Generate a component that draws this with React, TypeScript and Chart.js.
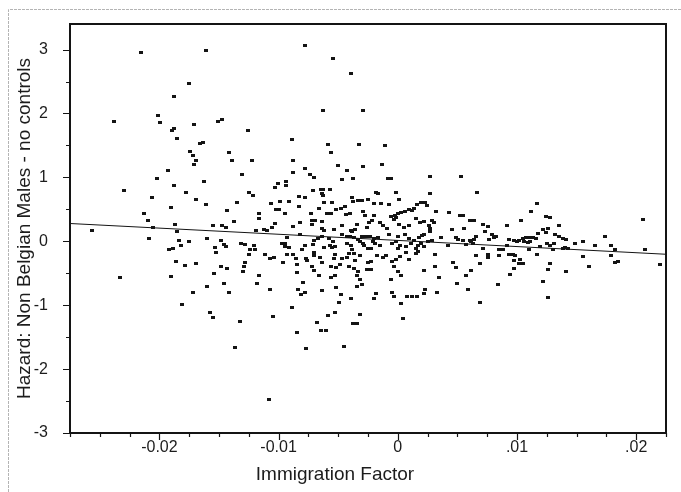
import React, { useEffect, useRef } from 'react';
import { Chart, registerables } from 'chart.js';

Chart.register(...registerables);

// Axis ranges and tick labels
const xRange = [-0.0275, 0.0225];
const yRange = [-3, 3.4];
const xMajorTicks = [-0.02, -0.01, 0, 0.01, 0.02];
const xTickLabels = ['-0.02', '-0.01', '0', '.01', '.02'];
const xMinorStep = 0.0025;
const yMajorTicks = [-3, -2, -1, 0, 1, 2, 3];
const yTickLabels = ['-3', '-2', '-1', '0', '1', '2', '3'];
const yMinorStep = 0.5;

// Fitted line (end points)
const fitX = [-0.0275, 0.0225];
const fitY = [0.278, -0.203];

// Observations: [Immigration Factor, Hazard]
const observations: [number, number][] = [
  [-0.02154, 2.96], [-0.01605, 2.99], [-0.01748, 2.47], [-0.01874, 2.27], [-0.02008, 1.97], [-0.02378, 1.88],
  [-0.01994, 1.86], [-0.01877, 1.77], [-0.01893, 1.74], [-0.01706, 1.82], [-0.01507, 1.87], [-0.01479, 1.9],
  [-0.01255, 1.74], [-0.01851, 1.61], [-0.01633, 1.54], [-0.0166, 1.53],
  [-0.00782, 3.06], [-0.00543, 2.86], [-0.00395, 2.62], [-0.00625, 2.05], [-0.00289, 2.05], [-0.00885, 1.6],
  [-0.00583, 1.51], [-0.00328, 1.52], [-0.00104, 1.5],
  [-0.01745, 1.41], [-0.01714, 1.35], [-0.01418, 1.39], [-0.01692, 1.26], [-0.01706, 1.2], [-0.01389, 1.26],
  [-0.01227, 1.26], [-0.0193, 1.1], [-0.01311, 1.04], [-0.02023, 0.975], [-0.01624, 0.93], [-0.0188, 0.87],
  [-0.01008, 0.91], [-0.01034, 0.845], [-0.02297, 0.8], [-0.01773, 0.77], [-0.01252, 0.76], [-0.01213, 0.72],
  [-0.02062, 0.68], [-0.01689, 0.66], [-0.01611, 0.58], [-0.01347, 0.6], [-0.00989, 0.62], [-0.01067, 0.59],
  [-0.01905, 0.53], [-0.01431, 0.48], [-0.01025, 0.5], [-0.00997, 0.5], [-0.02129, 0.43], [-0.01165, 0.44],
  [-0.01165, 0.35], [-0.02098, 0.32], [-0.01378, 0.31], [-0.01031, 0.28], [-0.01866, 0.26], [-0.01549, 0.24],
  [-0.01471, 0.24], [-0.0144, 0.22], [-0.01059, 0.21], [-0.02566, 0.166], [-0.02053, 0.22], [-0.01851, 0.16],
  [-0.01193, 0.166], [-0.01126, 0.19], [-0.01095, 0.17], [-0.02084, 0.05], [-0.01838, 0.02], [-0.01748, 0.0],
  [-0.01599, 0.036], [-0.01485, 0.02], [-0.01456, -0.05], [-0.01443, -0.085], [-0.01815, -0.07], [-0.01882, -0.11],
  [-0.01919, -0.13], [-0.01532, -0.094], [-0.01524, -0.17], [-0.01314, -0.03], [-0.01286, -0.05], [-0.01241, -0.125],
  [-0.01204, -0.07], [-0.012, -0.125], [-0.01246, -0.21], [-0.01115, -0.21], [-0.01073, -0.27], [-0.01042, -0.25],
  [-0.00969, -0.04], [-0.0095, -0.085], [-0.01857, -0.32], [-0.01787, -0.38], [-0.01692, -0.34], [-0.0128, -0.335],
  [-0.01288, -0.39], [-0.01485, -0.4], [-0.01429, -0.43], [-0.01546, -0.51], [-0.01297, -0.48], [-0.01168, -0.53],
  [-0.02328, -0.574], [-0.01905, -0.554], [-0.01454, -0.66], [-0.01179, -0.66], [-0.01599, -0.7], [-0.01073, -0.76],
  [-0.0172, -0.8], [-0.01418, -0.8], [-0.01812, -0.99], [-0.01574, -1.11], [-0.01549, -1.2], [-0.01325, -1.26],
  [-0.01045, -1.17], [-0.01364, -1.665], [-0.01084, -2.48],
  [-0.00557, 1.39], [-0.00876, 1.27], [-0.00502, 1.19], [-0.00294, 1.17], [-0.00132, 1.2], [-0.00782, 1.14],
  [-0.00876, 1.08], [-0.00423, 1.1], [-0.00737, 1.04], [-0.007, 1.0], [-0.00465, 0.96], [-0.00372, 0.975],
  [-0.00082, 0.98], [-0.0006, 0.98], [0.00266, 1.01], [0.00532, 1.01], [-0.0094, 0.93], [-0.0094, 0.87],
  [-0.00712, 0.79], [-0.00641, 0.81], [-0.00627, 0.81], [-0.00569, 0.81], [-0.00636, 0.75], [-0.0063, 0.72],
  [-0.00832, 0.7], [-0.00182, 0.77], [-0.00168, 0.74], [-0.00011, 0.77], [0.00266, 0.74], [-0.00916, 0.62],
  [-0.00779, 0.69], [-0.00619, 0.61], [-0.00555, 0.61], [-0.00387, 0.69], [-0.00372, 0.615], [-0.00334, 0.635],
  [-0.00297, 0.635], [-0.00246, 0.65], [-0.00202, 0.59], [-0.0014, 0.59], [-0.00078, 0.58], [0.00008, 0.66],
  [0.0016, 0.58], [0.00193, 0.6], [0.00227, 0.6], [0.00246, 0.56], [0.00132, 0.51], [-0.0095, 0.44],
  [-0.00832, 0.54], [-0.00725, 0.44], [-0.00658, 0.52], [-0.00597, 0.44], [-0.00557, 0.44], [-0.00521, 0.49],
  [-0.00479, 0.52], [-0.00445, 0.55], [-0.00431, 0.42], [-0.00397, 0.44], [-0.00294, 0.46], [-0.00275, 0.4],
  [-0.00196, 0.4], [-0.00053, 0.385], [-0.00025, 0.41], [0.00003, 0.43], [0.00031, 0.45], [0.00059, 0.47],
  [-0.00036, 0.34], [-0.00017, 0.365], [0.00092, 0.49], [0.00118, 0.485], [0.00151, 0.35], [0.00322, 0.46],
  [0.00426, 0.45], [0.00518, 0.41], [0.00546, 0.41], [0.00602, 0.32], [0.00636, 0.32], [-0.00723, 0.33],
  [-0.00695, 0.33], [-0.00639, 0.31], [-0.00821, 0.29], [-0.00882, 0.23], [-0.00717, 0.27], [-0.00636, 0.2],
  [-0.00622, 0.17], [-0.00535, 0.19], [-0.00471, 0.24], [-0.00389, 0.17], [-0.00361, 0.18], [-0.00339, 0.255],
  [-0.00261, 0.22], [-0.00238, 0.3], [-0.00216, 0.32], [-0.00149, 0.29], [-0.0012, 0.24], [-0.00092, 0.2],
  [0.00006, 0.27], [0.00053, 0.22], [0.00092, 0.25], [0.00187, 0.29], [0.00221, 0.31], [0.00283, 0.33],
  [0.003, 0.29], [0.00258, 0.25], [0.00272, 0.2], [0.00454, 0.19], [0.00555, 0.2], [-0.00933, 0.06],
  [-0.00821, 0.1], [-0.00703, 0.02], [-0.00672, 0.036], [-0.00633, 0.067], [-0.00577, 0.04], [-0.00465, 0.11],
  [-0.00423, 0.08], [-0.00401, 0.07], [-0.00367, 0.056], [-0.00387, 0.15], [-0.00334, 0.03], [-0.00303, 0.07],
  [-0.00266, 0.07], [-0.00233, 0.07], [-0.00199, 0.04], [-0.00162, 0.06], [-0.00076, 0.11], [0.0, 0.07],
  [0.00059, 0.1], [0.00098, 0.05], [0.00137, 0.02], [0.00174, 0.06], [0.00199, 0.09], [0.00221, 0.1],
  [0.00266, 0.146], [0.00361, 0.056], [0.00487, 0.06], [0.00501, 0.03], [0.00549, 0.005], [0.00608, 0.02],
  [0.00639, 0.025], [0.00613, -0.01],
  [-0.00944, -0.04], [-0.00916, -0.09], [-0.00801, -0.125], [-0.00779, -0.07], [-0.00714, -0.05], [-0.00703, -0.17],
  [-0.00619, -0.094], [-0.00569, -0.07], [-0.00549, -0.094], [-0.00529, -0.085], [-0.0054, -0.006], [-0.00429, -0.04],
  [-0.00395, -0.07], [-0.00384, -0.136], [-0.00317, -0.006], [-0.00294, -0.04], [-0.00283, -0.07], [-0.0025, -0.116],
  [-0.00227, -0.116], [-0.0021, 0.0], [-0.00191, -0.04], [-0.00149, -0.06], [-0.00045, -0.03], [-0.00014, -0.006],
  [0.00003, -0.12], [0.00019, -0.07], [0.00065, -0.085], [0.00109, -0.04], [0.00149, -0.116], [0.00171, -0.07],
  [0.00193, -0.04], [0.00216, -0.085], [0.0025, 0.0], [0.00283, 0.01], [0.00423, -0.07], [0.00571, -0.058],
  [0.00628, -0.03],
  [-0.00933, -0.2], [-0.00876, -0.2], [-0.00854, -0.27], [-0.00773, -0.27], [-0.00759, -0.3], [-0.00703, -0.22],
  [-0.00653, -0.26], [-0.00633, -0.335], [-0.00529, -0.21], [-0.00535, -0.27], [-0.00465, -0.27], [-0.00429, -0.25],
  [-0.00409, -0.19], [-0.00367, -0.19], [-0.00355, -0.3], [-0.00317, -0.23], [-0.0025, -0.335], [-0.00221, -0.31],
  [-0.00171, -0.225], [-0.0012, -0.25], [-0.00098, -0.22], [-0.0005, -0.31], [-0.00017, -0.29], [0.00017, -0.24],
  [0.0007, -0.17], [0.0009, -0.29], [0.00149, -0.19], [0.00166, -0.156], [0.00311, -0.21], [-0.0096, -0.335],
  [-0.00849, -0.37], [-0.00717, -0.4], [-0.00703, -0.46], [-0.00563, -0.39], [-0.00521, -0.41], [-0.00485, -0.36],
  [-0.00409, -0.4], [-0.00367, -0.42], [-0.00334, -0.475], [-0.00261, -0.44], [-0.00227, -0.44], [-0.00031, -0.4],
  [0.0, -0.475], [0.00216, -0.465], [0.00311, -0.39], [0.00465, -0.335], [0.00487, -0.41], [0.00613, -0.45],
  [-0.00849, -0.49],
  [-0.00661, -0.53], [-0.00557, -0.56], [-0.00529, -0.53], [-0.00345, -0.54], [-0.00317, -0.595], [0.00031, -0.53],
  [0.00347, -0.56], [0.00571, -0.54], [-0.00792, -0.64], [-0.00053, -0.595], [0.00496, -0.66], [-0.00345, -0.7],
  [-0.00303, -0.67], [-0.00518, -0.72], [-0.00838, -0.76], [-0.00809, -0.825], [-0.00782, -0.8], [-0.00639, -0.77],
  [-0.00476, -0.825], [-0.00182, -0.81], [-0.00196, -0.89], [-0.0005, -0.8], [-0.00036, -0.87], [0.00081, -0.86],
  [0.00115, -0.86], [0.0016, -0.86], [0.00216, -0.81], [0.00227, -0.76], [0.00333, -0.8], [0.00586, -0.75],
  [-0.00395, -0.9], [-0.00493, -0.96], [0.00025, -0.98], [-0.00888, -1.04], [-0.00529, -1.11], [-0.00582, -1.16],
  [-0.00319, -1.14], [0.00042, -1.205], [-0.00675, -1.27], [-0.00372, -1.29], [-0.00339, -1.29], [-0.00641, -1.39],
  [-0.00605, -1.39], [-0.00846, -1.42], [-0.00451, -1.64], [-0.00771, -1.685],
  [0.00664, 0.76], [0.01168, 0.59], [0.01115, 0.47], [0.01034, 0.33], [0.01246, 0.385], [0.01277, 0.365],
  [0.00717, 0.27], [0.00754, 0.23], [0.00916, 0.25], [0.01353, 0.24], [0.02056, 0.34], [0.00731, 0.156],
  [0.00787, 0.11], [0.01216, 0.19], [0.01263, 0.2], [0.01241, 0.135], [0.01179, 0.125], [0.00809, 0.06],
  [0.00826, 0.07], [0.00767, 0.03], [0.00653, 0.07], [0.00935, 0.03], [0.00977, 0.02], [0.01, -0.006],
  [0.01019, 0.02], [0.01048, 0.046], [0.01076, 0.056], [0.01103, 0.056], [0.01132, 0.056], [0.0116, 0.04],
  [0.01061, -0.006], [0.01089, -0.02], [0.01111, -0.006], [0.01322, 0.1], [0.01356, 0.07], [0.01384, 0.046],
  [0.01412, 0.03], [0.0149, -0.03], [0.01555, -0.006], [0.0174, 0.07], [0.01658, -0.06], [0.0179, -0.06],
  [0.01818, -0.136], [0.0207, -0.136], [0.00717, -0.12], [0.00851, -0.136], [0.00879, -0.136], [0.00916, -0.07],
  [0.01103, -0.125], [0.01196, -0.085], [0.01252, -0.04], [0.01277, -0.07], [0.01313, -0.04], [0.013, -0.136],
  [0.01384, -0.11], [0.01406, -0.094], [0.01426, -0.11], [0.00658, -0.22], [0.00759, -0.21], [0.00759, -0.25],
  [0.00851, -0.225], [0.0093, -0.2], [0.00964, -0.21], [0.00986, -0.22], [0.01168, -0.2], [0.00972, -0.3],
  [0.01025, -0.28], [0.01552, -0.24], [0.0179, -0.225], [0.01818, -0.33], [0.01846, -0.31], [0.00692, -0.355],
  [0.01019, -0.355], [0.01048, -0.355], [0.01277, -0.355], [0.00977, -0.42], [0.01263, -0.44], [0.01608, -0.39],
  [0.02202, -0.37], [0.00944, -0.52], [0.01409, -0.475],
  [0.00838, -0.67], [0.01221, -0.63], [0.00692, -0.96], [0.01263, -0.88],
];

const INK = '#141414';

const framePlugin = {
  id: 'scanFrame',
  beforeDraw(chart: any) {
    const ctx = chart.ctx;
    ctx.save();
    ctx.strokeStyle = '#b4b4b4';
    ctx.lineWidth = 1;
    ctx.setLineDash([3, 1]);
    ctx.beginPath();
    ctx.moveTo(8.5, 492);
    ctx.lineTo(8.5, 9.5);
    ctx.lineTo(681, 9.5);
    ctx.stroke();
    ctx.restore();
  },
  afterDraw(chart: any) {
    const { ctx, chartArea: a, scales } = chart;
    const xs = scales.x;
    const ys = scales.y;
    ctx.save();
    ctx.strokeStyle = INK;
    ctx.lineWidth = 2;
    ctx.strokeRect(a.left, a.top, a.right - a.left, a.bottom - a.top);
    ctx.lineWidth = 1.2;
    ctx.beginPath();
    const nx = Math.round((xRange[1] - xRange[0]) / xMinorStep);
    for (let i = 0; i <= nx; i++) {
      const v = xRange[0] + i * xMinorStep;
      const major = xMajorTicks.some((m) => Math.abs(m - v) < 1e-9);
      const px = Math.round(xs.getPixelForValue(v)) + 0.5;
      ctx.moveTo(px, a.bottom);
      ctx.lineTo(px, a.bottom + (major ? 7 : 4));
    }
    const ny = Math.round((3 - yRange[0]) / yMinorStep);
    for (let i = 0; i <= ny; i++) {
      const v = yRange[0] + i * yMinorStep;
      const major = yMajorTicks.some((m) => Math.abs(m - v) < 1e-9);
      const py = Math.round(ys.getPixelForValue(v)) + 0.5;
      ctx.moveTo(a.left, py);
      ctx.lineTo(a.left - (major ? 7 : 4), py);
    }
    ctx.stroke();
    ctx.restore();
  },
};

export default function App() {
  const ref = useRef<HTMLCanvasElement | null>(null);

  useEffect(() => {
    if (!ref.current) return;
    const marker = document.createElement('canvas');
    marker.width = 4;
    marker.height = 3;
    const mctx = marker.getContext('2d')!;
    mctx.fillStyle = INK;
    mctx.fillRect(0, 0, 4, 3);

    const font = "'Liberation Sans', Arial, sans-serif";

    const chart = new Chart(ref.current, {
      type: 'scatter',
      data: {
        datasets: [
          {
            type: 'line',
            data: fitX.map((x, i) => ({ x, y: fitY[i] })),
            borderColor: INK,
            borderWidth: 1,
            pointRadius: 0,
            fill: false,
          } as any,
          {
            type: 'scatter',
            data: observations.map(([x, y]) => ({ x, y })),
            pointStyle: marker as any,
            pointRadius: 2,
            backgroundColor: INK,
            borderColor: INK,
          },
        ],
      },
      options: {
        responsive: false,
        animation: false,
        events: [],
        layout: { padding: { top: 24, right: 15, left: 0, bottom: 0 } },
        plugins: { legend: { display: false }, tooltip: { enabled: false } },
        scales: {
          x: {
            type: 'linear',
            min: xRange[0],
            max: xRange[1],
            afterBuildTicks: (s: any) => {
              s.ticks = xMajorTicks.map((v) => ({ value: v }));
            },
            afterFit: (s: any) => {
              s.height = 59;
              if (!s.__titleShift) {
                const orig = s.drawTitle.bind(s);
                s.drawTitle = (...args: any[]) => {
                  const r = s.right;
                  s.right = r - 66;
                  orig(...args);
                  s.right = r;
                };
                s.__titleShift = true;
              }
            },
            grid: { display: false },
            border: { display: false },
            ticks: {
              autoSkip: false,
              maxRotation: 0,
              padding: -3,
              color: '#1c1c1c',
              font: { family: font, size: 16 },
              callback: (_v: any, i: number) => xTickLabels[i],
            },
            title: {
              display: true,
              text: 'Immigration Factor',
              color: '#1c1c1c',
              font: { family: font, size: 19 },
              padding: { top: 0, bottom: 6 },
            },
          },
          y: {
            type: 'linear',
            min: yRange[0],
            max: yRange[1],
            afterBuildTicks: (s: any) => {
              s.ticks = yMajorTicks.map((v) => ({ value: v }));
            },
            afterFit: (s: any) => {
              s.width = 70;
            },
            grid: { display: false },
            border: { display: false },
            ticks: {
              autoSkip: false,
              padding: 14,
              color: '#1c1c1c',
              font: { family: font, size: 16 },
              callback: (_v: any, i: number) => yTickLabels[i],
            },
            title: {
              display: true,
              text: 'Hazard: Non Belgian Males - no controls',
              color: '#1c1c1c',
              font: { family: font, size: 19 },
              padding: { top: 13, bottom: 0 },
            },
          },
        },
      },
      plugins: [framePlugin],
    });
    return () => chart.destroy();
  }, []);

  return (
    <div style={{ position: 'fixed', left: 0, top: 0, width: 681, height: 492, background: '#fff' }}>
      <canvas ref={ref} width={681} height={492} style={{ width: 681, height: 492, display: 'block' }} />
    </div>
  );
}
